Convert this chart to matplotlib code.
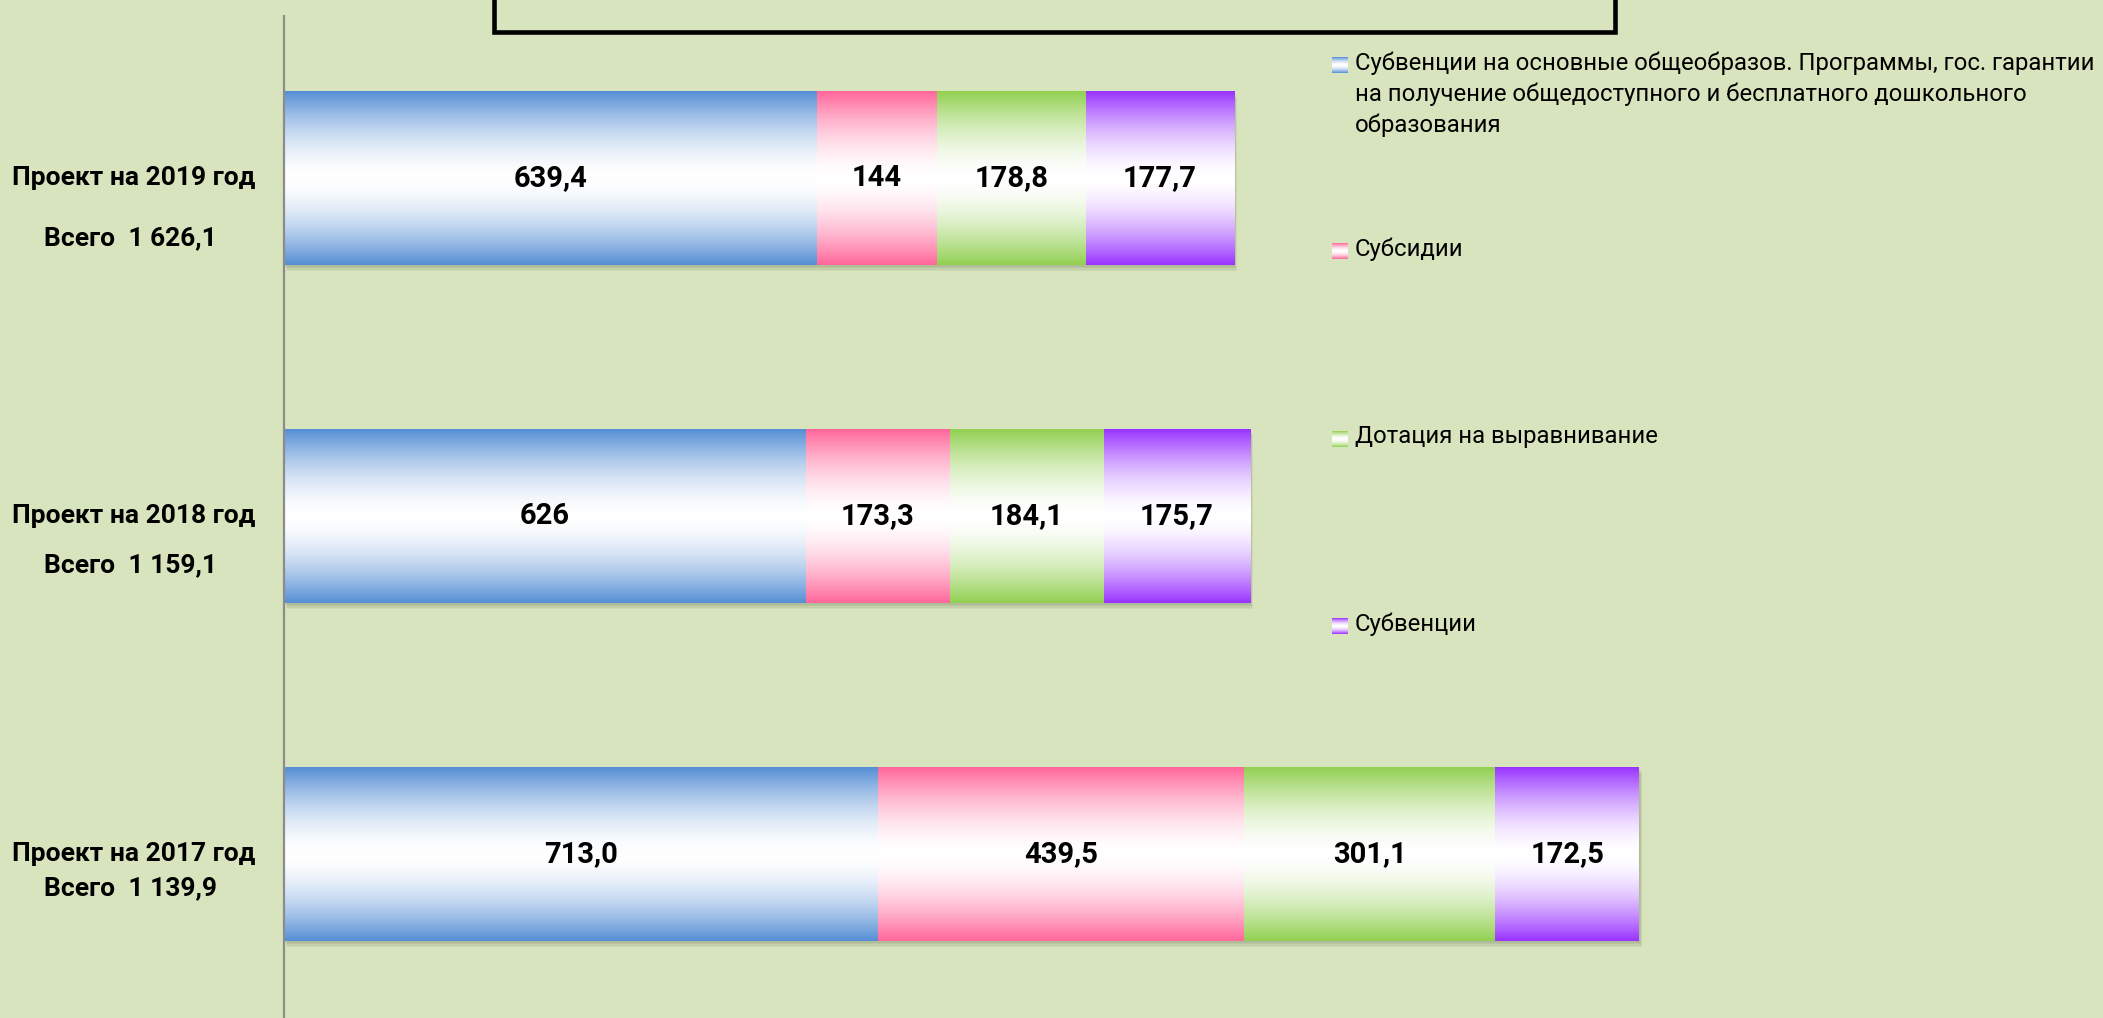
import numpy as np
import matplotlib
matplotlib.use("Agg")
import matplotlib.pyplot as plt
import matplotlib.colors as mcolors
from matplotlib import font_manager, transforms
from matplotlib.patches import Rectangle

# categories, bottom to top
categories = ["Проект на 2017 год", "Проект на 2018 год", "Проект на 2019 год"]
totals = ["Всего  1 139,9", "Всего  1 159,1", "Всего  1 626,1"]

series_names = [
    "Субвенции на основные общеобразов. Программы, гос. гарантии\n"
    "на получение общедоступного и бесплатного дошкольного\nобразования",
    "Субсидии",
    "Дотация на выравнивание",
    "Субвенции",
]
subv_general = [713.0, 626.0, 639.4]
subsidies = [439.5, 173.3, 144.0]
dotation = [301.1, 184.1, 178.8]
subventions = [172.5, 175.7, 177.7]

labels_general = ["713,0", "626", "639,4"]
labels_subsidies = ["439,5", "173,3", "144"]
labels_dotation = ["301,1", "184,1", "178,8"]
labels_subventions = ["172,5", "175,7", "177,7"]

colors = ["#558ED5", "#FF6699", "#92D050", "#9933FF"]

available = {f.name for f in font_manager.fontManager.ttflist}
fam = next((n for n in ["Roboto", "Open Sans", "Noto Sans"] if n in available), "DejaVu Sans")
plt.rcParams['font.family'] = [fam, 'DejaVu Sans']

W, H = 2103, 1018
bg = "#D7E4BD"
px_per_unit = 0.8334
fig = plt.figure(figsize=(W / 100, H / 100), dpi=100, facecolor=bg)

ax = fig.add_axes([284 / W, 0, (W - 284) / W, (H - 16) / H])
ax.patch.set_visible(False)


def gradient(color, n=256):
    # colour at top/bottom edge, white in the middle
    c = np.array(mcolors.to_rgb(color))
    t = np.abs(np.linspace(-1, 1, n))
    m = t ** 1.7
    img = 1 - m[:, None] * (1 - c[None, :])
    return img[:, None, :]


y = np.arange(len(categories))
height = 0.515
all_vals = [subv_general, subsidies, dotation, subventions]
all_labels = [labels_general, labels_subsidies, labels_dotation, labels_subventions]
stack_total = np.sum(np.array(all_vals), axis=0)

# soft shadow under each bar
for k in range(1, 5):
    off = transforms.ScaledTranslation(k * 0.8 / 100, -k * 1.5 / 100, fig.dpi_scale_trans)
    ax.barh(y, stack_total, height=height, color="#5f6b4a", alpha=0.09,
            transform=ax.transData + off, zorder=1)

left = np.zeros(len(categories))
for vals, labs, col in zip(all_vals, all_labels, colors):
    bars = ax.barh(y, vals, left=left, height=height, color='none',
                   edgecolor='none', zorder=3)
    img = gradient(col)
    for r in bars:
        ax.imshow(img, extent=(r.get_x(), r.get_x() + r.get_width(),
                               r.get_y(), r.get_y() + r.get_height()),
                  aspect='auto', interpolation='bilinear', zorder=2)
    ax.bar_label(bars, labels=labs, label_type='center', fontsize=21,
                 fontweight='bold', color='black', zorder=4)
    left += np.array(vals)

ax.set_xlim(0, (W - 284) / px_per_unit)
ax.set_ylim(-0.485, 2.481)
for s in ['top', 'right', 'bottom']:
    ax.spines[s].set_visible(False)
ax.spines['left'].set_color('#8c8c8c')
ax.spines['left'].set_linewidth(1.6)
ax.set_xticks([])
ax.set_yticks([])

# category labels to the left of the axis
total_gaps = [34, 49, 60]
blend = transforms.blended_transform_factory(fig.transFigure, ax.transData)
for yi, cat, tot, gap in zip(y, categories, totals, total_gaps):
    ax.text(134 / W, yi, cat, transform=blend, ha='center', va='center',
            fontsize=19, fontweight='bold', clip_on=False)
    ax.annotate(tot, xy=(130 / W, yi), xycoords=blend, xytext=(0, -gap),
                textcoords='offset pixels', ha='center', va='center',
                fontsize=19, fontweight='bold', annotation_clip=False)

# overlay in pixel coords for the title frame and legend
ov = fig.add_axes([0, 0, 1, 1])
ov.set_xlim(0, W)
ov.set_ylim(H, 0)
ov.axis('off')
ov.patch.set_visible(False)
ov.add_patch(Rectangle((494, -20), 1615 - 494, 52, fill=False, lw=3.3, ec='black'))

leg_y = [65, 251, 439, 626]
for name, col, ly in zip(series_names, colors, leg_y):
    ov.imshow(gradient(col, 64), extent=(1332, 1348, ly + 8, ly - 8),
              aspect='auto', interpolation='bilinear')
    ov.text(1355, ly - 14, name, ha='left', va='top', fontsize=17.2,
            linespacing=1.42, color='black')
ov.set_xlim(0, W)
ov.set_ylim(H, 0)

plt.savefig("out.png", dpi=100, facecolor=bg)
